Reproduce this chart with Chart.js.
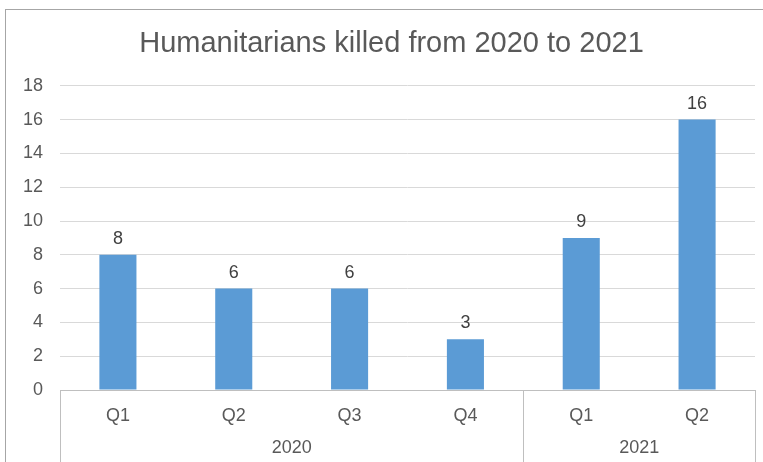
<!DOCTYPE html>
<html>
<head>
<meta charset="utf-8">
<script src="https://cdn.jsdelivr.net/npm/chart.js@4/dist/chart.umd.min.js"></script>
<style>
  html, body { margin: 0; padding: 0; background: #fff; overflow: hidden; }
  #frame { position: absolute; left: 5px; top: 9px; width: 800px; height: 500px; border: 1px solid #a6a6a6; }
  #wrap { position: absolute; left: 0; top: 0; width: 763px; height: 462px; }
</style>
</head>
<body>
<div id="frame"></div>
<div id="wrap"><canvas id="chart"></canvas></div>
<script>
// Humanitarians killed per quarter
const quarters = ['Q1', 'Q2', 'Q3', 'Q4', 'Q1', 'Q2'];
const years = ['2020', '2021'];
const quartersPerYear = [4, 2];
const killed = [8, 6, 6, 3, 9, 16];

const textColor = '#595959';
const fontFamily = '"Liberation Sans", Arial, sans-serif';

// the title sits centred on the whole frame, a bit right of the canvas centre
const titleShift = {
    id: 'titleShift',
    afterLayout(chart) {
        if (chart.titleBlock) chart.titleBlock.left = 28;
    }
};

// year row + separators under the quarter labels
const yearGroups = {
    id: 'yearGroups',
    afterDraw(chart) {
        const ctx = chart.ctx;
        const x = chart.scales.x;
        const area = chart.chartArea;
        const half = (x.getPixelForValue(1) - x.getPixelForValue(0)) / 2;
        ctx.save();
        ctx.strokeStyle = '#bfbfbf';
        ctx.lineWidth = 1;
        ctx.fillStyle = textColor;
        ctx.font = '18px ' + fontFamily;
        ctx.textAlign = 'center';
        ctx.textBaseline = 'middle';
        let start = 0;
        const edges = [Math.round(x.getPixelForValue(0) - half) + 0.5];
        years.forEach((yr, i) => {
            const end = start + quartersPerYear[i] - 1;
            const left = x.getPixelForValue(start) - half;
            const right = x.getPixelForValue(end) + half;
            edges.push(Math.round(right) + 0.5);
            ctx.fillText(yr, (left + right) / 2, area.bottom + 58);
            start = end + 1;
        });
        edges.forEach(px => {
            ctx.beginPath();
            ctx.moveTo(px, area.bottom);
            ctx.lineTo(px, chart.height);
            ctx.stroke();
        });
        ctx.restore();
    }
};

// value labels above bars
const barValues = {
    id: 'barValues',
    afterDatasetsDraw(chart) {
        const ctx = chart.ctx;
        const meta = chart.getDatasetMeta(0);
        ctx.save();
        ctx.fillStyle = '#404040';
        ctx.font = '18px ' + fontFamily;
        ctx.textAlign = 'center';
        ctx.textBaseline = 'alphabetic';
        meta.data.forEach((bar, i) => {
            ctx.fillText(killed[i], bar.x, bar.y - 11);
        });
        ctx.restore();
    }
};

new Chart(document.getElementById('chart'), {
    type: 'bar',
    data: {
        labels: quarters,
        datasets: [{
            label: 'Humanitarians killed',
            data: killed,
            backgroundColor: '#5b9bd5',
            categoryPercentage: 1,
            barPercentage: 0.32
        }]
    },
    options: {
        responsive: true,
        maintainAspectRatio: false,
        animation: false,
        layout: { padding: { left: 0, right: 8, top: 0, bottom: 0 } },
        plugins: {
            legend: { display: false },
            tooltip: { enabled: false },
            title: {
                display: true,
                text: 'Humanitarians killed from 2020 to 2021',
                color: textColor,
                font: { family: fontFamily, size: 29, weight: 'normal' },
                padding: { top: 27, bottom: 24 }
            }
        },
        scales: {
            x: {
                grid: { display: false },
                border: { display: true, color: '#bfbfbf' },
                ticks: {
                    color: textColor,
                    padding: 7,
                    font: { family: fontFamily, size: 18 }
                },
                afterFit(scale) { scale.height = 72; }
            },
            y: {
                min: 0,
                max: 18,
                grid: { color: '#d9d9d9', drawTicks: false },
                border: { display: false },
                ticks: {
                    stepSize: 2,
                    color: textColor,
                    padding: 17,
                    font: { family: fontFamily, size: 18 }
                },
                afterFit(scale) { scale.width = 60; }
            }
        }
    },
    plugins: [titleShift, yearGroups, barValues]
});
</script>
</body>
</html>
